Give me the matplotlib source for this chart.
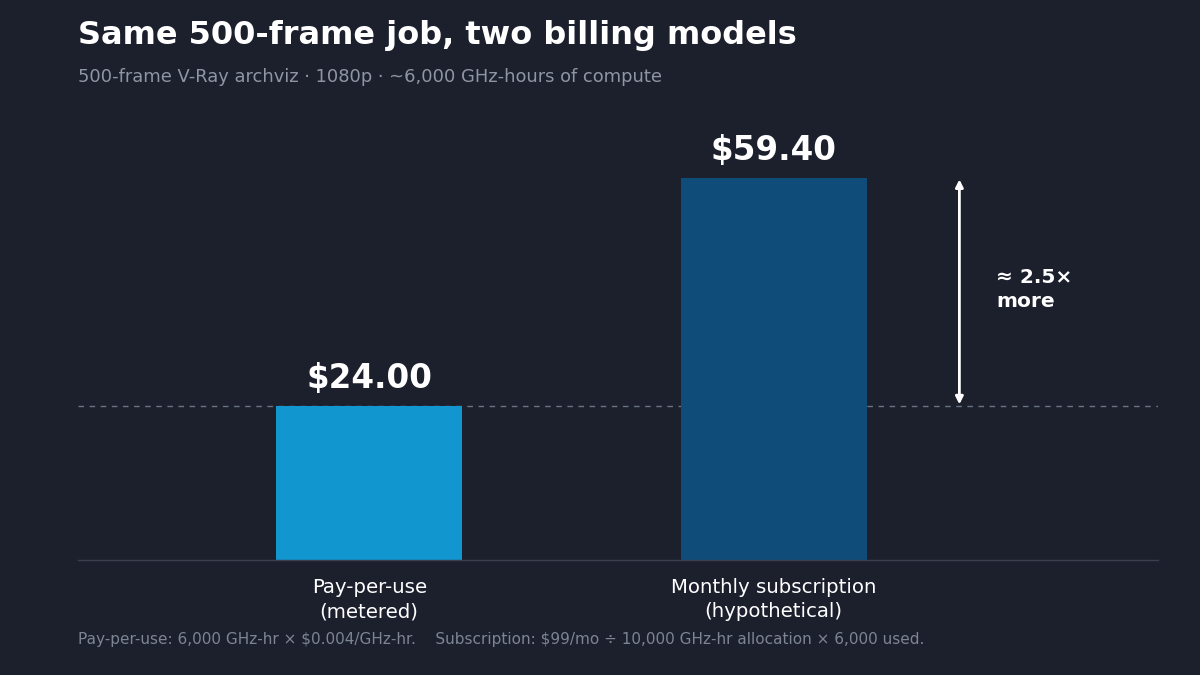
import matplotlib
matplotlib.use("Agg")
import matplotlib.pyplot as plt

# data
categories = ["Pay-per-use\n(metered)", "Monthly subscription\n(hypothetical)"]
costs = [24.00, 59.40]
bar_colors = ["#1196d0", "#0f4c7a"]
ratio_label = "≈ 2.5×\nmore"

bg = "#1c202d"
plt.rcParams['font.family'] = ['DejaVu Sans']
plt.rcParams['text.parse_math'] = False

fig = plt.figure(figsize=(12, 6.75), dpi=100)
fig.patch.set_facecolor(bg)
ax = fig.add_axes([0.065, 0.1704, 0.9, 0.6667])
ax.set_facecolor(bg)

x = list(range(len(costs)))
ax.axhline(costs[0], color="#6b7282", lw=1, ls=(0, (4, 4)), zorder=1)
ax.bar(x, costs, width=0.46, color=bar_colors, zorder=2)

for xi, v in zip(x, costs):
    ax.text(xi, v + 1.7, f"${v:.2f}", ha="center", va="bottom",
            color="white", fontsize=23.5, fontweight="bold")

# difference arrow
ax.annotate("", xy=(1.459, costs[1] - 0.2), xytext=(1.459, costs[0] + 0.2),
            arrowprops=dict(arrowstyle="<|-|>", color="white", lw=2,
                            mutation_scale=11, shrinkA=0, shrinkB=0))
ax.text(1.55, (costs[0] + costs[1]) / 2 + 0.4, ratio_label, ha="left", va="center",
        color="white", fontsize=14.5, fontweight="bold", linespacing=1.3)

ax.set_xlim(-0.72, 1.95)
ax.set_ylim(0, 70)
ax.set_xticks(x)
ax.set_xticklabels(categories, color="white", fontsize=14.2, linespacing=1.35)
ax.tick_params(axis="x", length=0, pad=13)
ax.set_yticks([])
for s in ["top", "right", "left"]:
    ax.spines[s].set_visible(False)
ax.spines["bottom"].set_color("#3a4050")
ax.spines["bottom"].set_linewidth(1)

fig.text(0.065, 0.935, "Same 500-frame job, two billing models", color="white",
         fontsize=23, fontweight="bold", ha="left", va="baseline")
fig.text(0.065, 0.879, "500-frame V-Ray archviz · 1080p · ~6,000 GHz-hours of compute",
         color="#8f96a3", fontsize=12.9, ha="left", va="baseline")
fig.text(0.065, 0.046,
         "Pay-per-use: 6,000 GHz-hr × $0.004/GHz-hr.    Subscription: $99/mo ÷ 10,000 GHz-hr allocation × 6,000 used.",
         color="#7d8493", fontsize=10.95, ha="left", va="baseline")

fig.savefig("out.png", dpi=100, facecolor=bg)
